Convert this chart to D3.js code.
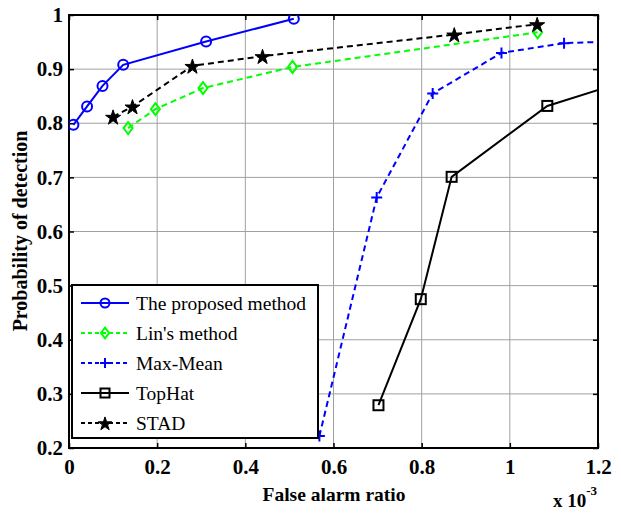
<!DOCTYPE html>
<html>
<head>
<meta charset="utf-8">
<script src="https://cdn.jsdelivr.net/npm/d3@7"></script>
<style>
  body { margin: 0; background: #fff; }
  svg text { font-family: "Liberation Serif", "Times New Roman", serif; }
</style>
</head>
<body>
<svg id="chart" width="621" height="514"></svg>
<script>
// data (x in units of 1e-3)
var proposedX = [0.010, 0.041, 0.076, 0.123, 0.311, 0.510];
var proposedY = [0.797, 0.831, 0.869, 0.908, 0.951, 0.993];

var linX = [0.134, 0.196, 0.304, 0.507, 1.063];
var linY = [0.791, 0.826, 0.865, 0.904, 0.968];

var maxMeanX = [0.568, 0.698, 0.825, 0.981, 1.123, 1.300];
var maxMeanY = [0.222, 0.663, 0.855, 0.930, 0.948, 0.953];

var topHatX = [0.702, 0.798, 0.868, 1.085, 1.300];
var topHatY = [0.279, 0.475, 0.701, 0.832, 0.887];

var stadX = [0.100, 0.144, 0.280, 0.439, 0.874, 1.062];
var stadY = [0.812, 0.831, 0.906, 0.924, 0.964, 0.983];

var xTicks = [0, 0.2, 0.4, 0.6, 0.8, 1, 1.2];
var yTicks = [0.2, 0.3, 0.4, 0.5, 0.6, 0.7, 0.8, 0.9, 1];

var series = [
  {name: "The proposed method", xs: proposedX, ys: proposedY, color: "#0000ff", dash: null, marker: "circle"},
  {name: "Lin's method", xs: linX, ys: linY, color: "#00ff00", dash: "6,4", marker: "diamond"},
  {name: "Max-Mean", xs: maxMeanX, ys: maxMeanY, color: "#0000ff", dash: "6,4", marker: "plus"},
  {name: "TopHat", xs: topHatX, ys: topHatY, color: "#000000", dash: null, marker: "square"},
  {name: "STAD", xs: stadX, ys: stadY, color: "#000000", dash: "6,4", marker: "star"}
];

var svg = d3.select("#chart");
var pLeft = 69, pRight = 598, pTop = 15, pBottom = 448;

var x = d3.scaleLinear().domain([0, 1.2]).range([pLeft, pRight]);
var y = d3.scaleLinear().domain([0.2, 1]).range([pBottom, pTop]);

svg.append("defs").append("clipPath").attr("id", "plotclip")
  .append("rect").attr("x", pLeft).attr("y", pTop)
  .attr("width", pRight - pLeft).attr("height", pBottom - pTop);

// grid
var grid = svg.append("g");
grid.selectAll(".gx").data(xTicks.slice(1, -1)).enter().append("line")
  .attr("x1", d => x(d)).attr("x2", d => x(d))
  .attr("y1", pTop).attr("y2", pBottom)
  .style("stroke", "#a0a0a0").style("stroke-width", 1);
grid.selectAll(".gy").data(yTicks.slice(1, -1)).enter().append("line")
  .attr("x1", pLeft).attr("x2", pRight)
  .attr("y1", d => y(d)).attr("y2", d => y(d))
  .style("stroke", "#a0a0a0").style("stroke-width", 1);

// axes (MATLAB style, ticks inward, on all four sides)
var tickFont = function(g) {
  g.attr("font-family", "Liberation Serif").attr("font-size", 21).attr("font-weight", "bold");
  g.selectAll("text").style("font-family", "'Liberation Serif', serif")
    .style("font-weight", "bold").style("font-size", "21px").attr("fill", "#000");
  g.select(".domain").remove();
  g.selectAll(".tick line").attr("stroke", "#000").attr("stroke-width", 1.5);
};
svg.append("g").attr("transform", "translate(0," + pBottom + ")")
  .call(d3.axisBottom(x).tickValues(xTicks).tickSize(-5).tickPadding(11).tickFormat(d3.format("~g")))
  .call(tickFont);
svg.append("g").attr("transform", "translate(" + pLeft + ",0)")
  .call(d3.axisLeft(y).tickValues(yTicks).tickSize(-5).tickPadding(6).tickFormat(d3.format("~g")))
  .call(tickFont);
svg.append("g").attr("transform", "translate(0," + pTop + ")")
  .call(d3.axisTop(x).tickValues(xTicks).tickSize(-5).tickFormat(""))
  .call(tickFont);
svg.append("g").attr("transform", "translate(" + pRight + ",0)")
  .call(d3.axisRight(y).tickValues(yTicks).tickSize(-5).tickFormat(""))
  .call(tickFont);

svg.append("rect").attr("x", pLeft).attr("y", pTop)
  .attr("width", pRight - pLeft).attr("height", pBottom - pTop)
  .style("fill", "none").style("stroke", "#000").style("stroke-width", 2);

// markers
function drawMarker(g, s, cx, cy, scale) {
  scale = scale || 1;
  var m;
  if (s.marker === "circle") {
    m = g.append("circle").attr("cx", cx).attr("cy", cy).attr("r", 5 * scale)
      .style("fill", "none");
  } else if (s.marker === "diamond") {
    var r = 6 * scale;
    m = g.append("path").attr("d", "M" + cx + "," + (cy - r) + "L" + (cx + r * 0.75) + "," + cy +
      "L" + cx + "," + (cy + r) + "L" + (cx - r * 0.75) + "," + cy + "Z").style("fill", "none");
  } else if (s.marker === "plus") {
    var p = 5.5 * scale;
    m = g.append("path").attr("d", "M" + (cx - p) + "," + cy + "H" + (cx + p) + "M" + cx + "," + (cy - p) + "V" + (cy + p))
      .style("fill", "none");
  } else if (s.marker === "square") {
    var q = 5 * scale;
    m = g.append("rect").attr("x", cx - q).attr("y", cy - q).attr("width", 2 * q).attr("height", 2 * q)
      .style("fill", "none");
  } else {
    m = g.append("path").attr("d", d3.symbol().type(d3.symbolStar).size(70 * scale * scale)())
      .attr("transform", "translate(" + cx + "," + (cy + 1) + ")")
      .style("fill", s.color);
  }
  m.style("stroke", s.color).style("stroke-width", s.marker === "star" ? 1 : 2);
}

var line = d3.line().x(d => x(d[0])).y(d => y(d[1]));
var plot = svg.append("g").attr("clip-path", "url(#plotclip)");
series.forEach(function(s) {
  var pts = s.xs.map((v, i) => [v, s.ys[i]]);
  plot.append("path").datum(pts).attr("d", line)
    .style("fill", "none").style("stroke", s.color).style("stroke-width", 2)
    .style("stroke-dasharray", s.dash);
  pts.forEach(function(p) {
    if (p[0] <= 1.2) drawMarker(plot, s, x(p[0]), y(p[1]));
  });
});

// legend
var lg = svg.append("g");
lg.append("rect").attr("x", 72).attr("y", 285).attr("width", 246).attr("height", 153)
  .style("fill", "#fff").style("stroke", "#000").style("stroke-width", 2);
series.forEach(function(s, i) {
  var ly = 303 + i * 30;
  lg.append("line").attr("x1", 81).attr("x2", 129).attr("y1", ly).attr("y2", ly)
    .style("stroke", s.color).style("stroke-width", 2).style("stroke-dasharray", s.dash ? "4,3" : null);
  drawMarker(lg, s, 105, ly, 0.9);
  lg.append("text").attr("x", 136).attr("y", ly).attr("dy", "0.35em")
    .style("font-size", "19.5px").text(s.name);
});

// labels
svg.append("text").attr("x", 334).attr("y", 501).attr("text-anchor", "middle")
  .style("font-weight", "bold").style("font-size", "19.5px").text("False alarm ratio");
svg.append("text").attr("transform", "translate(27,231) rotate(-90)").attr("text-anchor", "middle")
  .style("font-weight", "bold").style("font-size", "20px").text("Probability of detection");
var ex = svg.append("text").attr("x", 553).attr("y", 507)
  .style("font-weight", "bold").style("font-size", "19px");
ex.append("tspan").text("x 10");
ex.append("tspan").attr("dy", -12).style("font-size", "13px").text("-3");
</script>
</body>
</html>
